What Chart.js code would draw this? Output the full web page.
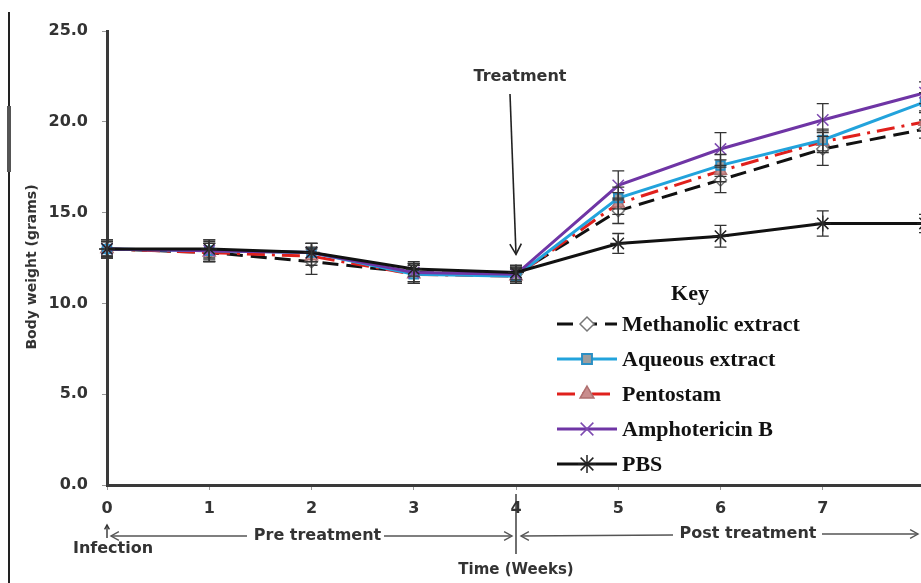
<!DOCTYPE html>
<html>
<head>
<meta charset="utf-8">
<script src="https://cdn.jsdelivr.net/npm/chart.js@4.4.1/dist/chart.umd.min.js"></script>
<style>
  html, body { margin: 0; padding: 0; background: #fff; overflow: hidden; }
  #wrap { position: relative; width: 940px; height: 583px; }
  .edge { position: absolute; background: #222; }
</style>
</head>
<body>
<div id="wrap">
  <div class="edge" style="left:8px; top:12px; width:2px; height:571px;"></div>
  <div class="edge" style="left:7px; top:106px; width:4px; height:66px; background:#555;"></div>
  <canvas id="chart"></canvas>
</div>
<script>
// weeks after infection
const weeks = ['0', '1', '2', '3', '4', '5', '6', '7', '8'];
const yTicks = [0, 5, 10, 15, 20, 25];

// mean body weight (grams)
const methanolic = [13.0, 12.8, 12.3, 11.7, 11.6, 15.1, 16.8, 18.5, 19.6];
const aqueous    = [13.0, 12.9, 12.8, 11.6, 11.5, 15.8, 17.6, 19.0, 21.1];
const pentostam  = [13.0, 12.8, 12.6, 11.6, 11.5, 15.5, 17.3, 18.9, 20.0];
const amphoB     = [13.0, 12.9, 12.8, 11.7, 11.6, 16.5, 18.5, 20.1, 21.6];
const pbs        = [13.0, 13.0, 12.8, 11.9, 11.7, 13.3, 13.7, 14.4, 14.4];

// error bars (+/-)
const methanolicErr = [0.5, 0.5, 0.7, 0.5, 0.4, 0.7, 0.7, 0.9, 0.5];
const aqueousErr    = [0.4, 0.5, 0.5, 0.5, 0.4, 0.6, 0.6, 0.6, 0.5];
const pentostamErr  = [0.4, 0.5, 0.5, 0.5, 0.4, 0.6, 0.6, 0.6, 0.5];
const amphoBErr     = [0.5, 0.6, 0.5, 0.5, 0.4, 0.8, 0.9, 0.9, 0.6];
const pbsErr        = [0.4, 0.5, 0.5, 0.4, 0.4, 0.55, 0.6, 0.7, 0.5];

const sansBold = (size) => ({ family: '"DejaVu Sans", sans-serif', size: size, weight: 'bold' });

const errorBars = {
    id: 'errorBars',
    afterDatasetsDraw(chart) {
        const ctx = chart.ctx;
        const yScale = chart.scales.y;
        ctx.save();
        ctx.strokeStyle = '#333';
        ctx.lineWidth = 1.3;
        chart.data.datasets.forEach((ds, di) => {
            const meta = chart.getDatasetMeta(di);
            meta.data.forEach((pt, i) => {
                const v = ds.data[i], e = ds.err[i];
                const top = yScale.getPixelForValue(v + e);
                const bot = yScale.getPixelForValue(v - e);
                ctx.beginPath();
                ctx.moveTo(pt.x, top); ctx.lineTo(pt.x, bot);
                ctx.moveTo(pt.x - 6, top); ctx.lineTo(pt.x + 6, top);
                ctx.moveTo(pt.x - 6, bot); ctx.lineTo(pt.x + 6, bot);
                ctx.stroke();
            });
        });
        ctx.restore();
    }
};

const arrowHead = (ctx, x, y, ang, size) => {
    ctx.beginPath();
    ctx.moveTo(x - size * Math.cos(ang - 0.5), y - size * Math.sin(ang - 0.5));
    ctx.lineTo(x, y);
    ctx.lineTo(x - size * Math.cos(ang + 0.5), y - size * Math.sin(ang + 0.5));
    ctx.stroke();
};

const annotations = {
    id: 'annotations',
    afterDraw(chart) {
        const ctx = chart.ctx;
        const x = chart.scales.x;
        const y = chart.scales.y;
        const x0 = x.getPixelForValue(0);
        const x4 = x.getPixelForValue(4);
        ctx.save();
        ctx.fillStyle = '#333';
        ctx.textAlign = 'center';
        ctx.textBaseline = 'middle';

        // y axis title
        ctx.save();
        ctx.translate(32, 267);
        ctx.rotate(-Math.PI / 2);
        ctx.font = 'bold 14px "DejaVu Sans", sans-serif';
        ctx.fillText('Body weight (grams)', 0, 0);
        ctx.restore();

        // treatment arrow
        ctx.font = 'bold 16px "DejaVu Sans", sans-serif';
        ctx.fillText('Treatment', x4 + 4, 77);
        ctx.strokeStyle = '#222';
        ctx.lineWidth = 1.6;
        const tipY = y.getPixelForValue(12.7);
        ctx.beginPath();
        ctx.moveTo(x4 - 6, 94); ctx.lineTo(x4, tipY);
        ctx.stroke();
        arrowHead(ctx, x4, tipY, Math.atan2(tipY - 94, 6), 12);

        // pre / post treatment arrows
        const rowY = 536;
        ctx.strokeStyle = '#555';
        ctx.lineWidth = 1.4;
        ctx.font = 'bold 16px "DejaVu Sans", sans-serif';
        ctx.fillStyle = '#333';
        ctx.fillText('Pre treatment', (x0 + x4) / 2 + 6, rowY);
        ctx.fillText('Post treatment', 748, rowY - 2);
        ctx.beginPath();
        ctx.moveTo(x0 + 4, rowY); ctx.lineTo(247, rowY);
        ctx.moveTo(384, rowY); ctx.lineTo(x4 - 4, rowY);
        ctx.moveTo(x4 + 5, rowY); ctx.lineTo(673, rowY - 1);
        ctx.moveTo(822, rowY - 2); ctx.lineTo(918, rowY - 2);
        ctx.stroke();
        arrowHead(ctx, x0 + 4, rowY, Math.PI, 9);
        arrowHead(ctx, x4 - 4, rowY, 0, 9);
        arrowHead(ctx, x4 + 5, rowY, Math.PI, 9);
        arrowHead(ctx, 918, rowY - 2, 0, 9);

        // divider at week 4
        ctx.strokeStyle = '#333';
        ctx.beginPath();
        ctx.moveTo(x4, 494); ctx.lineTo(x4, 554);
        ctx.stroke();

        // infection marker
        ctx.beginPath();
        ctx.moveTo(x0, 538); ctx.lineTo(x0, 525);
        ctx.stroke();
        arrowHead(ctx, x0, 525, -Math.PI / 2, 5);
        ctx.fillText('Infection', x0 + 6, 549);

        ctx.restore();
    }
};

const keyLegend = {
    id: 'keyLegend',
    afterDraw(chart) {
        const ctx = chart.ctx;
        ctx.save();
        ctx.fillStyle = '#111';
        ctx.textBaseline = 'middle';
        ctx.font = 'bold 22px "Liberation Serif", serif';
        ctx.textAlign = 'center';
        ctx.fillText('Key', 690, 294);
        ctx.textAlign = 'left';
        chart.data.datasets.forEach((ds, i) => {
            const ry = 324 + i * 35;
            ctx.strokeStyle = ds.borderColor;
            ctx.lineWidth = 3;
            ctx.setLineDash(ds.borderDash || []);
            ctx.beginPath();
            ctx.moveTo(557, ry); ctx.lineTo(617, ry);
            ctx.stroke();
            ctx.setLineDash([]);
            ctx.fillStyle = ds.pointBackgroundColor;
            ctx.strokeStyle = ds.pointBorderColor;
            ctx.lineWidth = ds.pointBorderWidth;
            Chart.helpers.drawPoint(ctx, {
                pointStyle: ds.pointStyle, radius: ds.pointRadius + 1,
                borderWidth: ds.pointBorderWidth, rotation: 0
            }, 587, ry);
            ctx.fillStyle = '#111';
            ctx.font = 'bold 22px "Liberation Serif", serif';
            ctx.fillText(ds.label, 622, ry + 1);
        });
        ctx.restore();
    }
};

const config = {
    type: 'line',
    data: {
        labels: weeks,
        datasets: [
            {
                label: 'Methanolic extract', data: methanolic, err: methanolicErr,
                borderColor: '#111', borderWidth: 3, borderDash: [16, 8],
                pointStyle: 'rectRot', pointRadius: 6, pointBackgroundColor: '#fff',
                pointBorderColor: '#777', pointBorderWidth: 1.5, order: 4
            },
            {
                label: 'Aqueous extract', data: aqueous, err: aqueousErr,
                borderColor: '#22a3dc', borderWidth: 3,
                pointStyle: 'rect', pointRadius: 6, pointBackgroundColor: '#9e9e9e',
                pointBorderColor: '#2b8fc4', pointBorderWidth: 2, order: 2
            },
            {
                label: 'Pentostam', data: pentostam, err: pentostamErr,
                borderColor: '#e0201c', borderWidth: 3, borderDash: [18, 7, 3, 7],
                pointStyle: 'triangle', pointRadius: 7, pointBackgroundColor: '#c98e8e',
                pointBorderColor: '#b07070', pointBorderWidth: 1.5, order: 3
            },
            {
                label: 'Amphotericin B', data: amphoB, err: amphoBErr,
                borderColor: '#6f35a5', borderWidth: 3,
                pointStyle: 'crossRot', pointRadius: 8, pointBackgroundColor: '#6f35a5',
                pointBorderColor: '#7d4ab0', pointBorderWidth: 1.5, order: 1
            },
            {
                label: 'PBS', data: pbs, err: pbsErr,
                borderColor: '#111', borderWidth: 3,
                pointStyle: 'star', pointRadius: 8, pointBackgroundColor: '#111',
                pointBorderColor: '#222', pointBorderWidth: 1.5, order: 0
            }
        ]
    },
    options: {
        responsive: true,
        maintainAspectRatio: false,
        animation: false,
        layout: { padding: { left: 12, top: 31, right: 15, bottom: 0 } },
        plugins: { legend: { display: false }, tooltip: { enabled: false } },
        elements: { line: { tension: 0 } },
        scales: {
            x: {
                offset: false,
                afterFit: (scale) => { scale.height = 98; },
                border: { color: '#3a3a3a', width: 3 },
                grid: { drawOnChartArea: false, tickLength: 5, color: '#999' },
                ticks: {
                    color: '#333', font: sansBold(16), padding: 9, maxRotation: 0,
                    callback: (v, i) => (weeks[i] === '8' ? '' : weeks[i])
                },
                title: {
                    display: true, text: 'Time (Weeks)', color: '#333',
                    font: sansBold(15), padding: { top: 0, bottom: 4 }
                }
            },
            y: {
                min: 0, max: 25,
                afterFit: (scale) => { scale.width = 95; },
                afterBuildTicks: (scale) => { scale.ticks = yTicks.map(v => ({ value: v })); },
                border: { color: '#3a3a3a', width: 3 },
                grid: { drawOnChartArea: false, tickLength: 5, color: '#999' },
                ticks: {
                    color: '#333', font: sansBold(16), padding: 14,
                    callback: (v) => v.toFixed(1)
                },
                title: { display: false }
            }
        }
    },
    plugins: [errorBars, annotations, keyLegend]
};

new Chart(document.getElementById('chart').getContext('2d'), config);
</script>
</body>
</html>
